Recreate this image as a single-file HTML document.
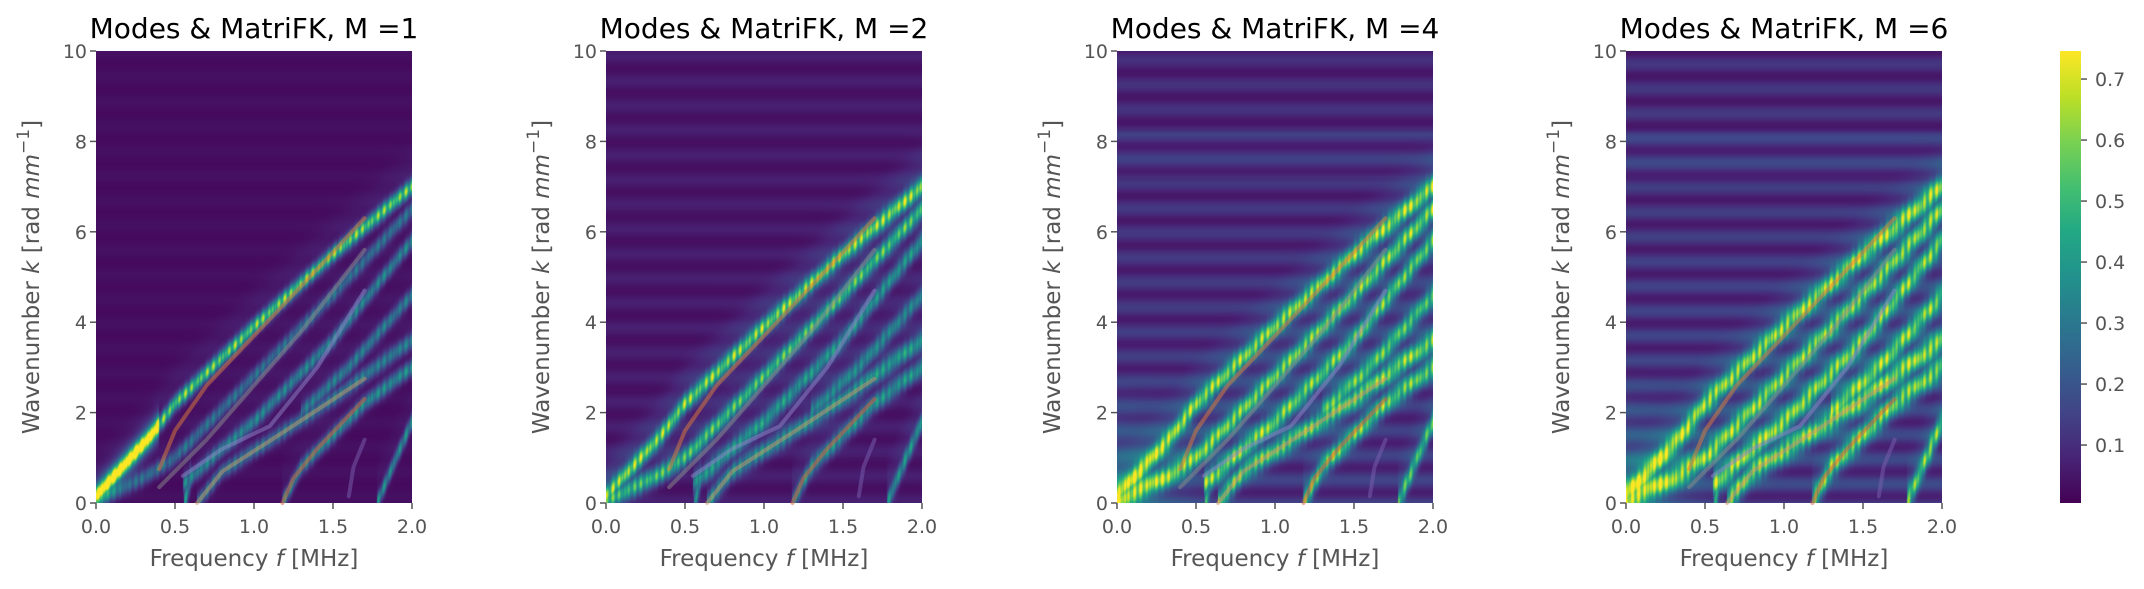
<!DOCTYPE html>
<html><head><meta charset="utf-8">
<style>
body{margin:0;background:#fff;width:2144px;height:589px;overflow:hidden;font-family:"DejaVu Sans","Liberation Sans",sans-serif;}
#wrap{position:relative;width:2144px;height:589px;}
canvas{position:absolute;}
svg{position:absolute;left:0;top:0;font-family:"DejaVu Sans","Liberation Sans",sans-serif;}
</style></head>
<body>
<div id="wrap">
<svg id="svg" width="2144" height="589"></svg>
</div>
<script>
// ---- data ----
const panelTitles = ["Modes & MatriFK, M =1","Modes & MatriFK, M =2","Modes & MatriFK, M =4","Modes & MatriFK, M =6"];
const xTicks = [0.0,0.5,1.0,1.5,2.0];
const xTickLabels = ["0.0","0.5","1.0","1.5","2.0"];
const yTicks = [0,2,4,6,8,10];
const yTickLabels = ["0","2","4","6","8","10"];
const cbTicks = [0.1,0.2,0.3,0.4,0.5,0.6,0.7];
const cbTickLabels = ["0.1","0.2","0.3","0.4","0.5","0.6","0.7"];
// measured bands (f in MHz, k in rad/mm)
const bandF1 = [0,0.35,0.5,1.0,1.5,2.0];   const bandK1 = [0.15,1.5,2.2,3.9,5.5,7.0];
const bandF2 = [0,0.3,0.5,1.0,1.5,2.0];    const bandK2 = [0.05,0.55,1.0,2.8,4.6,6.5];
const bandF3 = [0.55,0.8,1.0,1.5,2.0];     const bandK3 = [0.4,1.2,1.8,3.6,5.8];
const bandF4 = [0.64,0.8,1.2,1.5,2.0];     const bandK4 = [0,0.7,1.6,2.3,3.6];
const bandF5 = [1.18,1.3,1.5,1.7,2.0];     const bandK5 = [0,0.8,1.5,2.2,3.0];
const bandF6 = [1.78,1.9,2.0];             const bandK6 = [0,1.0,1.8];
const bandF7 = [1.3,1.6,2.0];              const bandK7 = [2.0,3.0,4.6];
const bandF8 = [0.56,0.58,0.6];            const bandK8 = [0,0.25,0.6];
const bandWeightsM1 = [1,0.45,0.55,0.5,0.6,0.6,0.5,0.6];
const bandWeightsM2 = [1,0.85,0.6,0.6,0.6,0.6,0.5,0.6];
const bandWeightsM4 = [0.95,0.9,0.85,0.85,0.85,0.75,0.75,0.6];
const bandWeightsM6 = [0.95,0.9,0.9,0.9,0.9,0.85,0.85,0.6];
const backgroundLevels = [0.03,0.05,0.1,0.11];
// theoretical mode curves (overlay lines)
const modeF1 = [0.4,0.5,0.7,1.0,1.3,1.7]; const modeK1 = [0.75,1.6,2.6,3.7,4.8,6.3];
const modeF2 = [0.4,0.7,1.0,1.3,1.7];     const modeK2 = [0.35,1.4,2.6,3.8,5.6];
const modeF3 = [0.55,0.8,1.1,1.4,1.7];    const modeK3 = [0.6,1.2,1.7,3.0,4.7];
const modeF4 = [0.64,0.8,1.2,1.7];        const modeK4 = [0,0.7,1.6,2.75];
const modeF5 = [1.18,1.25,1.4,1.7];       const modeK5 = [0,0.55,1.2,2.3];
const modeF6 = [1.6,1.63,1.7];            const modeK6 = [0.15,0.8,1.4];
const modeColors = ["#e07b39","#8c8c8c","#8f83c8","#c8956a","#d9603b","#7a5fb0"];

const bandsF=[bandF1,bandF2,bandF3,bandF4,bandF5,bandF6,bandF7,bandF8];
const bandsK=[bandK1,bandK2,bandK3,bandK4,bandK5,bandK6,bandK7,bandK8];
const weights=[bandWeightsM1,bandWeightsM2,bandWeightsM4,bandWeightsM6];
const modesF=[modeF1,modeF2,modeF3,modeF4,modeF5,modeF6];
const modesK=[modeK1,modeK2,modeK3,modeK4,modeK5,modeK6];

// ---- layout ----
const axLeft=[96,606,1117,1626], axW=316, axTop=51, axBot=503;
const cbX=2060, cbW=21, vmin=0.005, vmax=0.746;
const stripeAmp=[0.25,0.45,0.55,0.6];
const NS="http://www.w3.org/2000/svg";
const svg=document.getElementById('svg');
const wrap=document.getElementById('wrap');
function mk(tag,attrs,parent){const e=document.createElementNS(NS,tag);for(const k in attrs)e.setAttribute(k,attrs[k]);(parent||svg).appendChild(e);return e;}

const vir=["#440154","#482475","#414487","#355f8d","#2a788e","#21918c","#22a884","#44bf70","#7ad151","#bddf26","#fde725"].map(h=>[parseInt(h.substr(1,2),16),parseInt(h.substr(3,2),16),parseInt(h.substr(5,2),16)]);
function cmap(t){t=Math.max(0,Math.min(1,t))*10;const i=Math.min(9,Math.floor(t)),f=t-i;return vir[i].map((c,j)=>c+(vir[i+1][j]-c)*f);}
function interp(F,K,f){if(f<F[0]||f>F[F.length-1])return null;for(let i=0;i<F.length-1;i++)if(f<=F[i+1]){const t=(f-F[i])/(F[i+1]-F[i]);return K[i]+t*(K[i+1]-K[i]);}return K[K.length-1];}

for(let p=0;p<4;p++){
  const x0=axLeft[p];
  const xs=f=>x0+f/2*axW, ys=k=>axBot-k/10*(axBot-axTop);
  const cv=document.createElement('canvas');
  cv.width=axW;cv.height=axBot-axTop;cv.style.left=x0+'px';cv.style.top=axTop+'px';
  
  
  wrap.insertBefore(cv,svg);
  const ctx=cv.getContext('2d');const img=ctx.createImageData(cv.width,cv.height);
  const H=cv.height, bg=backgroundLevels[p], w=weights[p], sa=stripeAmp[p];
  for(let px=0;px<axW;px++){
    const f=(px+0.5)/axW*2;
    const colN=0.55+0.45*Math.abs(Math.sin(px*2.7+p*1.3)*Math.sin(px*0.57+1));
    const kc=bandsF.map((F,i)=>interp(F,bandsK[i],f));
    for(let py=0;py<H;py++){
      const k=10-(py+0.5)/H*10;
      const stripe=0.5+0.5*Math.sin(k*11.5+p);
      let v=bg*(1+sa*(stripe-0.5)*1.4)*(p>=2?(1.1-0.035*k+(k>7.2&&k<8.2?0.2:0)):1)+0.01*sa*stripe;
      if(p>=2 && f<0.7 && k<3) v+=0.14*(1-k/3)*(1-f/0.7);
      if(p===0 && f<0.4 && kc[0]!==null){const d=(k-kc[0])/0.3; v+=0.35*Math.exp(-d*d);}
      let mx=0, sm=0;
      for(let i=0;i<kc.length;i++){if(kc[i]===null)continue;
        const sig=i===7?0.25:(0.17+0.03*p);
        const d=(k-kc[i])/sig;
        mx=Math.max(mx,w[i]*0.68*Math.exp(-d*d)*colN);
        const d2=(k-kc[i]-0.45)/0.4; sm+=0.05*w[i]*Math.exp(-d2*d2)*(p>=1?1:0.5);}
      v+=mx+sm;
      const c=cmap((Math.min(v,vmax)-vmin)/(vmax-vmin));
      const o=(py*axW+px)*4;img.data[o]=c[0];img.data[o+1]=c[1];img.data[o+2]=c[2];img.data[o+3]=255;
    }
  }
  ctx.putImageData(img,0,0);
  // mode lines
  modesF.forEach((F,i)=>{
    const pl=mk('polyline',{points:F.map((f,j)=>xs(f)+','+ys(modesK[i][j])).join(' '),fill:'none',stroke:modeColors[i],'stroke-width':4,'stroke-opacity':0.5,'stroke-linecap':'round','stroke-linejoin':'round'});
    
    
  });
  // ticks
  xTicks.forEach((t,i)=>{mk('line',{x1:xs(t),x2:xs(t),y1:axBot,y2:axBot+6,stroke:'#555','stroke-width':1.5});
    const tx=mk('text',{x:xs(t),y:axBot+30,'font-size':19,fill:'#555','text-anchor':'middle'});tx.textContent=xTickLabels[i];
    });
  yTicks.forEach((t,i)=>{mk('line',{x1:x0-6,x2:x0,y1:ys(t),y2:ys(t),stroke:'#555','stroke-width':1.5});
    const tx=mk('text',{x:x0-9,y:ys(t)+7,'font-size':19,fill:'#555','text-anchor':'end'});tx.textContent=yTickLabels[i];
    });
  const ti=mk('text',{x:x0+axW/2,y:38,'font-size':28,fill:'#000','text-anchor':'middle'});ti.textContent=panelTitles[p];
  
  const xl=mk('text',{x:x0+axW/2,y:566,'font-size':23,fill:'#555','text-anchor':'middle'});
  xl.innerHTML='Frequency <tspan font-style="italic">f</tspan> [MHz]';
  
  const yl=mk('text',{x:0,y:0,'font-size':23,fill:'#555','text-anchor':'middle',transform:`translate(${x0-57},${(axTop+axBot)/2}) rotate(-90)`});
  yl.innerHTML='Wavenumber <tspan font-style="italic">k</tspan> [rad <tspan font-style="italic">mm</tspan><tspan dy="-10" font-size="17">−1</tspan><tspan dy="10">]</tspan>';
  
}
// colorbar
const defs=mk('defs',{});const lg=mk('linearGradient',{id:'vg',x1:0,y1:1,x2:0,y2:0},defs);
vir.forEach((c,i)=>mk('stop',{offset:i/10,'stop-color':`rgb(${c})`},lg));
const cb=mk('rect',{x:cbX,y:axTop,width:cbW,height:axBot-axTop,fill:'url(#vg)'});

cbTicks.forEach((t,i)=>{const y=axBot-(t-vmin)/(vmax-vmin)*(axBot-axTop);
  mk('line',{x1:cbX+cbW,x2:cbX+cbW+6,y1:y,y2:y,stroke:'#555','stroke-width':1.5});
  const tx=mk('text',{x:cbX+cbW+14,y:y+7,'font-size':19,fill:'#555'});tx.textContent=cbTickLabels[i];
  });
</script>
</body></html>
